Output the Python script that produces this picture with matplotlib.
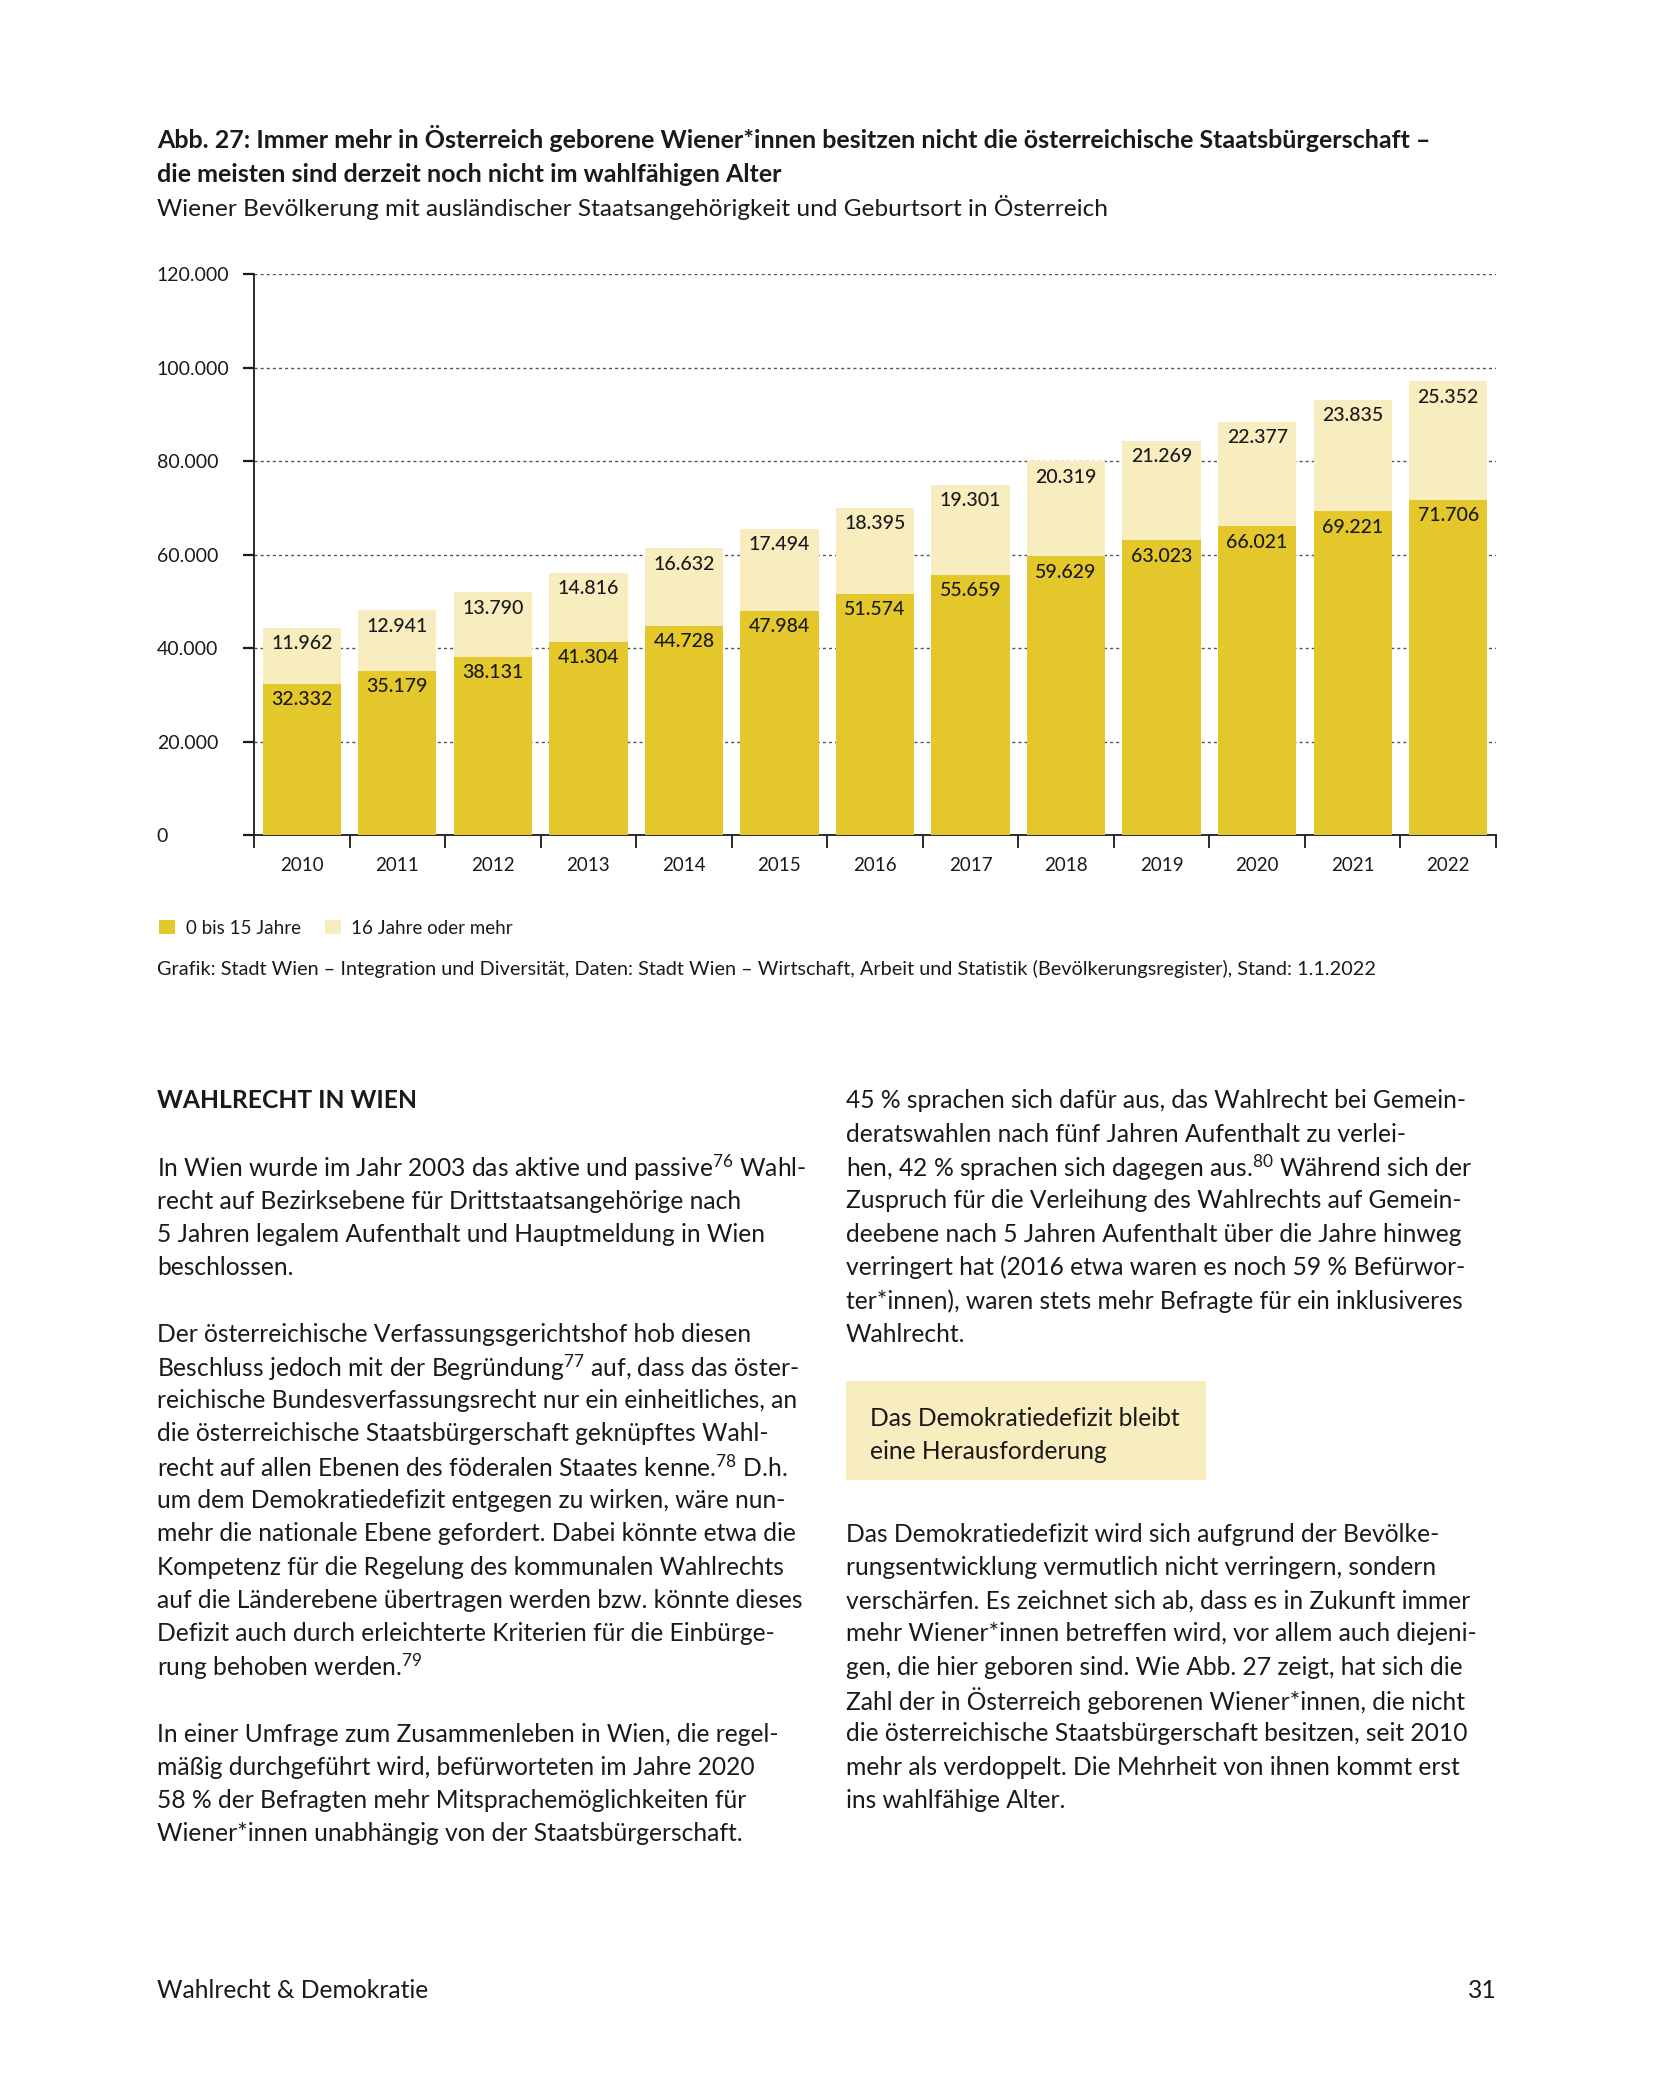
import matplotlib
matplotlib.use("Agg")
import matplotlib.pyplot as plt
from matplotlib.patches import Rectangle, Patch
from matplotlib.ticker import FuncFormatter, FixedLocator
import numpy as np

plt.rcParams['font.family'] = ['Lato', 'DejaVu Sans']
plt.rcParams['mathtext.fontset'] = 'custom'
plt.rcParams['mathtext.rm'] = 'Lato'
plt.rcParams['mathtext.it'] = 'Lato:italic'
plt.rcParams['mathtext.bf'] = 'Lato:bold'

# ---------------- data ----------------
years = ["2010", "2011", "2012", "2013", "2014", "2015", "2016",
         "2017", "2018", "2019", "2020", "2021", "2022"]
age_0_15 = [32332, 35179, 38131, 41304, 44728, 47984, 51574,
            55659, 59629, 63023, 66021, 69221, 71706]
age_16_plus = [11962, 12941, 13790, 14816, 16632, 17494, 18395,
               19301, 20319, 21269, 22377, 23835, 25352]
y_ticks = [0, 20000, 40000, 60000, 80000, 100000, 120000]
series_names = ["0 bis 15 Jahre", "16 Jahre oder mehr"]

DARK = "#E3C72B"
LIGHT = "#F8EDBE"
TXT = "#1a1a1a"

W, H = 1654, 2087
fig = plt.figure(figsize=(W / 100, H / 100), dpi=100)
fig.patch.set_facecolor("white")


def fx(x):
    return x / W


def fy(y):
    return 1 - y / H


def de(v):
    return f"{v:,.0f}".replace(",", ".")


# ---------------- titles ----------------
TITLE = 18.0
fig.text(fx(157), fy(139), "Abb. 27: Immer mehr in Österreich geborene Wiener*innen besitzen nicht die österreichische Staatsbürgerschaft –",
         fontsize=TITLE, fontweight="bold", color=TXT, va="center", ha="left")
fig.text(fx(157), fy(174), "die meisten sind derzeit noch nicht im wahlfähigen Alter",
         fontsize=TITLE, fontweight="bold", color=TXT, va="center", ha="left")
fig.text(fx(157), fy(208), "Wiener Bevölkerung mit ausländischer Staatsangehörigkeit und Geburtsort in Österreich",
         fontsize=17.6, color=TXT, va="center", ha="left")

# ---------------- chart ----------------
ax_l, ax_r, ax_b, ax_t = 254, 1496, 835, 274
ax = fig.add_axes([fx(ax_l), fy(ax_b), fx(ax_r - ax_l), (ax_b - ax_t) / H])
x = np.arange(len(years))
bw = 0.82
ax.bar(x, age_0_15, width=bw, color=DARK, zorder=3)
ax.bar(x, age_16_plus, width=bw, bottom=age_0_15, color=LIGHT, zorder=3)

ax.set_xlim(-0.5, len(years) - 0.5)
ax.set_ylim(0, 120000)
ax.yaxis.set_major_locator(FixedLocator(y_ticks))
ax.yaxis.set_major_formatter(FuncFormatter(lambda v, p: de(v)))
ax.grid(axis="y", color="#555555", linestyle=(0, (2.2, 2.2)), linewidth=1.0, zorder=0)
for s in ["top", "right"]:
    ax.spines[s].set_visible(False)
ax.spines["left"].set_linewidth(1.3)
ax.spines["bottom"].set_linewidth(1.3)
ax.spines["left"].set_color(TXT)
ax.spines["bottom"].set_color(TXT)

ax.tick_params(axis="y", length=8, width=1.6, color=TXT, labelsize=14, labelcolor=TXT, pad=62)
for lab in ax.get_yticklabels():
    lab.set_horizontalalignment("left")

ax.set_xticks(x)
ax.set_xticklabels(years)
ax.set_xticks(np.arange(-0.5, len(years), 1.0), minor=True)
ax.tick_params(axis="x", which="major", length=0, labelsize=13.5, labelcolor=TXT, pad=16)
ax.tick_params(axis="x", which="minor", length=9.5, width=1.3, color=TXT)

off = 16 / (ax_b - ax_t) * 120000
for i in range(len(years)):
    ax.text(x[i], age_0_15[i] - off, de(age_0_15[i]), ha="center", va="center",
            fontsize=14, fontweight="medium", color=TXT, zorder=5)
    tot = age_0_15[i] + age_16_plus[i]
    ax.text(x[i], tot - off, de(age_16_plus[i]), ha="center", va="center",
            fontsize=14, fontweight="medium", color=TXT, zorder=5)

# legend
handles = [Patch(facecolor=DARK, edgecolor="none", label=series_names[0]),
           Patch(facecolor=LIGHT, edgecolor="none", label=series_names[1])]
fig.legend(handles=handles, loc="center left", bbox_to_anchor=(fx(150), fy(928)),
           ncol=2, frameon=False, fontsize=13.5, handlelength=0.85, handleheight=0.85,
           handletextpad=0.55, columnspacing=1.3, borderpad=0, labelcolor=TXT)

fig.text(fx(157), fy(969),
         "Grafik: Stadt Wien – Integration und Diversität, Daten: Stadt Wien – Wirtschaft, Arbeit und Statistik (Bevölkerungsregister), Stand: 1.1.2022",
         fontsize=14.3, color=TXT, va="center", ha="left")

# ---------------- body text ----------------
BODY = 17.7
LS = 33.3


def sup(n):
    return r"$^{\mathrm{" + n + r"}}$"


def put_lines(x0, y0, lines, **kw):
    for k, s in enumerate(lines):
        fig.text(fx(x0), fy(y0 + k * LS), s, fontsize=BODY, color=TXT,
                 va="center", ha="left", **kw)


fig.text(fx(157), fy(1101), "WAHLRECHT IN WIEN", fontsize=BODY, fontweight="bold",
         color=TXT, va="center", ha="left")

left_p1 = [
    "In Wien wurde im Jahr 2003 das aktive und passive" + sup("76") + " Wahl-",
    "recht auf Bezirksebene für Drittstaatsangehörige nach",
    "5 Jahren legalem Aufenthalt und Hauptmeldung in Wien",
    "beschlossen.",
]
left_p2 = [
    "Der österreichische Verfassungsgerichtshof hob diesen",
    "Beschluss jedoch mit der Begründung" + sup("77") + " auf, dass das öster-",
    "reichische Bundesverfassungsrecht nur ein einheitliches, an",
    "die österreichische Staatsbürgerschaft geknüpftes Wahl-",
    "recht auf allen Ebenen des föderalen Staates kenne." + sup("78") + " D.h.",
    "um dem Demokratiedefizit entgegen zu wirken, wäre nun-",
    "mehr die nationale Ebene gefordert. Dabei könnte etwa die",
    "Kompetenz für die Regelung des kommunalen Wahlrechts",
    "auf die Länderebene übertragen werden bzw. könnte dieses",
    "Defizit auch durch erleichterte Kriterien für die Einbürge-",
    "rung behoben werden." + sup("79"),
]
left_p3 = [
    "In einer Umfrage zum Zusammenleben in Wien, die regel-",
    "mäßig durchgeführt wird, befürworteten im Jahre 2020",
    "58 % der Befragten mehr Mitsprachemöglichkeiten für",
    "Wiener*innen unabhängig von der Staatsbürgerschaft.",
]
right_p1 = [
    "45 % sprachen sich dafür aus, das Wahlrecht bei Gemein-",
    "deratswahlen nach fünf Jahren Aufenthalt zu verlei-",
    "hen, 42 % sprachen sich dagegen aus." + sup("80") + " Während sich der",
    "Zuspruch für die Verleihung des Wahlrechts auf Gemein-",
    "deebene nach 5 Jahren Aufenthalt über die Jahre hinweg",
    "verringert hat (2016 etwa waren es noch 59 % Befürwor-",
    "ter*innen), waren stets mehr Befragte für ein inklusiveres",
    "Wahlrecht.",
]
box_lines = ["Das Demokratiedefizit bleibt", "eine Herausforderung"]
right_p2 = [
    "Das Demokratiedefizit wird sich aufgrund der Bevölke-",
    "rungsentwicklung vermutlich nicht verringern, sondern",
    "verschärfen. Es zeichnet sich ab, dass es in Zukunft immer",
    "mehr Wiener*innen betreffen wird, vor allem auch diejeni-",
    "gen, die hier geboren sind. Wie Abb. 27 zeigt, hat sich die",
    "Zahl der in Österreich geborenen Wiener*innen, die nicht",
    "die österreichische Staatsbürgerschaft besitzen, seit 2010",
    "mehr als verdoppelt. Die Mehrheit von ihnen kommt erst",
    "ins wahlfähige Alter.",
]

put_lines(157, 1168, left_p1)
put_lines(157, 1334, left_p2)
put_lines(157, 1734, left_p3)
put_lines(846, 1101, right_p1)

fig.patches.append(Rectangle((fx(846), fy(1480)), fx(1206 - 846), (1480 - 1381) / H,
                             transform=fig.transFigure, facecolor=LIGHT,
                             edgecolor="none", zorder=0))
put_lines(870, 1418, box_lines)
put_lines(846, 1534, right_p2)

# footer
fig.text(fx(157), fy(1990), "Wahlrecht & Demokratie", fontsize=BODY, color=TXT,
         va="center", ha="left")
fig.text(fx(1497), fy(1990), "31", fontsize=BODY, color=TXT, va="center", ha="right")

fig.savefig("out.png", dpi=100, facecolor="white")
